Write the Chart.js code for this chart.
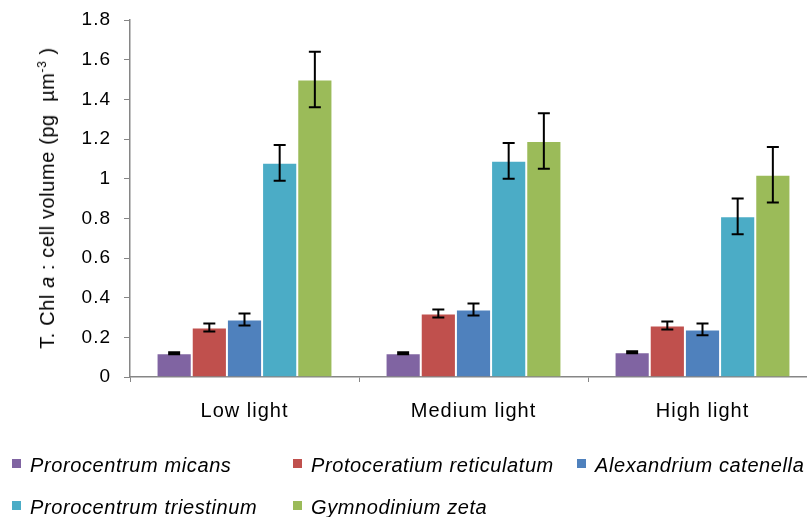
<!DOCTYPE html>
<html>
<head>
<meta charset="utf-8">
<script src="https://cdn.jsdelivr.net/npm/chart.js@4/dist/chart.umd.min.js"></script>
<style>
  html, body { margin: 0; padding: 0; background: #fff; overflow: hidden; width: 807px; height: 517px; }
  #wrap { position: relative; width: 807px; height: 517px; overflow: hidden; }
  canvas { position: absolute; left: 0; top: 0; }
  .ytitle {
    position: absolute; left: 47px; top: 198px;
    transform: translate(-50%, -50%) rotate(-90deg);
    white-space: nowrap; font-family: "Liberation Sans", Arial, sans-serif;
    font-size: 20px; letter-spacing: 0.6px; color: #000; line-height: 20px;
  }
  .ytitle sup { font-size: 12px; vertical-align: 8px; line-height: 0; }
  .legend-item { position: absolute; height: 20px; white-space: nowrap; }
  .legend-box { position: absolute; left: 0; width: 9px; height: 9px; }
  .legend-text {
    position: absolute; top: 0; font-family: "Liberation Sans", Arial, sans-serif;
    font-size: 20px; font-style: italic; line-height: 20px; letter-spacing: 0.6px; color: #000;
  }
</style>
</head>
<body>
<div id="wrap">
  <canvas id="chart" width="830" height="517"></canvas>
  <div class="ytitle">T. Chl <i>a</i> : cell volume (pg&nbsp; µm<sup>-3</sup> )</div>
  <div id="legend"></div>
</div>
<script>
// Light treatments (x categories)
const categories = ['Low light', 'Medium light', 'High light'];

// Species names and colours
const species = [
  'Prorocentrum micans',
  'Protoceratium reticulatum',
  'Alexandrium catenella',
  'Prorocentrum triestinum',
  'Gymnodinium zeta'
];
const colors = ['#8064A2', '#C0504D', '#4F81BD', '#4BACC6', '#9BBB59'];

// Mean T. Chl a : cell volume per species (pg µm-3)
const micans      = [0.12, 0.12, 0.125];
const reticulatum = [0.25, 0.32, 0.26];
const catenella   = [0.29, 0.34, 0.24];
const triestinum  = [1.08, 1.09, 0.81];
const zeta        = [1.50, 1.19, 1.02];

// Error bar half-lengths
const micansErr      = [0.005, 0.005, 0.005];
const reticulatumErr = [0.02, 0.02, 0.02];
const catenellaErr   = [0.03, 0.03, 0.03];
const triestinumErr  = [0.09, 0.09, 0.09];
const zetaErr        = [0.14, 0.14, 0.14];

// Y axis ticks
const yTicks = [0, 0.2, 0.4, 0.6, 0.8, 1, 1.2, 1.4, 1.6, 1.8];

const values = [micans, reticulatum, catenella, triestinum, zeta];
const errors = [micansErr, reticulatumErr, catenellaErr, triestinumErr, zetaErr];

const FONT = '"Liberation Sans", Arial, sans-serif';
const AXIS_GREY = '#868686';

// Slightly wider letter spacing for the axis labels
const textSpacing = {
  id: 'textSpacing',
  beforeLayout(chart) { chart.ctx.letterSpacing = '1px'; },
  beforeDraw(chart) { chart.ctx.letterSpacing = '1px'; }
};

// Whisker plugin: draws the ± error bars on top of each bar
const errorBars = {
  id: 'errorBars',
  afterDatasetsDraw(chart) {
    const ctx = chart.ctx;
    const y = chart.scales.y;
    ctx.save();
    ctx.strokeStyle = '#000';
    ctx.lineWidth = 2;
    chart.data.datasets.forEach((ds, di) => {
      const meta = chart.getDatasetMeta(di);
      meta.data.forEach((bar, i) => {
        const v = ds.data[i];
        const e = ds.errors[i];
        const top = y.getPixelForValue(v + e);
        const bot = y.getPixelForValue(v - e);
        const x = bar.x;
        const cap = 6;
        ctx.beginPath();
        ctx.moveTo(x, top); ctx.lineTo(x, bot);
        ctx.moveTo(x - cap, top); ctx.lineTo(x + cap, top);
        ctx.moveTo(x - cap, bot); ctx.lineTo(x + cap, bot);
        ctx.stroke();
      });
    });
    ctx.restore();
  }
};

new Chart(document.getElementById('chart'), {
  type: 'bar',
  data: {
    labels: categories,
    datasets: species.map((name, i) => ({
      label: name,
      data: values[i],
      errors: errors[i],
      backgroundColor: colors[i],
      borderColor: 'rgba(255,255,255,0.45)',
      borderWidth: 1,
      categoryPercentage: 0.768,
      barPercentage: 1.0
    }))
  },
  options: {
    responsive: false,
    animation: false,
    layout: { padding: { left: 0, top: 20, right: 13, bottom: 0 } },
    plugins: {
      legend: { display: false },
      tooltip: { enabled: false }
    },
    scales: {
      x: {
        afterFit(scale) {
          scale.height = 140;
          scale.paddingLeft = 0;
          scale.paddingRight = 0;
        },
        grid: {
          display: true,
          offset: true,
          drawOnChartArea: false,
          drawTicks: true,
          tickLength: 5,
          color: AXIS_GREY,
          lineWidth: 1
        },
        border: { display: true, color: AXIS_GREY, width: 1.5 },
        ticks: {
          color: '#000',
          padding: 17,
          font: { family: FONT, size: 20 }
        }
      },
      y: {
        min: 0,
        max: 1.8,
        afterFit(scale) {
          scale.width = 130;
          scale.paddingTop = 0;
          scale.paddingBottom = 0;
        },
        afterBuildTicks(scale) { scale.ticks = yTicks.map(v => ({ value: v })); },
        grid: {
          display: true,
          drawOnChartArea: false,
          drawTicks: true,
          tickLength: 6,
          color: AXIS_GREY,
          lineWidth: 1
        },
        border: { display: true, color: AXIS_GREY, width: 1.5 },
        ticks: {
          color: '#000',
          padding: 13,
          font: { family: FONT, size: 19 },
          callback: (v) => String(Number(v.toFixed(2)))
        }
      }
    }
  },
  plugins: [textSpacing, errorBars]
});

// Legend laid out in columns beneath the plot
const legendPos = [
  { left: 12, top: 455 }, { left: 293, top: 455 }, { left: 577, top: 455 },
  { left: 12, top: 497 }, { left: 293, top: 497 }
];
const legend = document.getElementById('legend');
species.forEach((name, i) => {
  const item = document.createElement('div');
  item.className = 'legend-item';
  item.style.left = legendPos[i].left + 'px';
  item.style.top = legendPos[i].top + 'px';
  const box = document.createElement('div');
  box.className = 'legend-box';
  box.style.background = colors[i];
  box.style.top = '4px';
  const txt = document.createElement('div');
  txt.className = 'legend-text';
  txt.style.left = '18px';
  txt.textContent = name;
  item.appendChild(box);
  item.appendChild(txt);
  legend.appendChild(item);
});
</script>
</body>
</html>
